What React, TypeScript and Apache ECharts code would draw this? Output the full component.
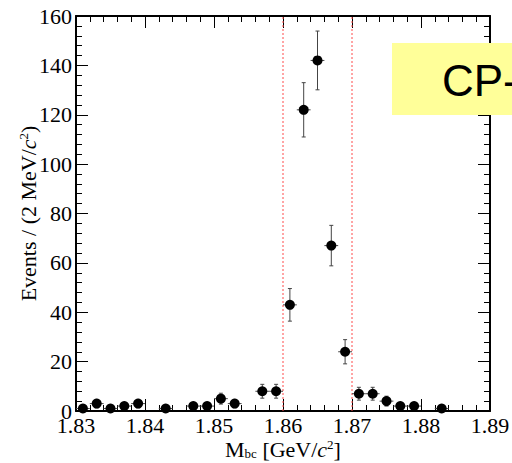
import React, { useEffect, useRef } from "react";
import * as echarts from "echarts";

const binCenters = [1.831, 1.833, 1.835, 1.837, 1.839, 1.843, 1.847, 1.849, 1.851, 1.853, 1.857, 1.859, 1.861, 1.863, 1.865, 1.867, 1.869, 1.871, 1.873, 1.875, 1.877, 1.879, 1.883];
const events = [1, 3, 1, 2, 3, 1, 2, 2, 5, 3, 8, 8, 43, 122, 142, 67, 24, 7, 7, 4, 2, 2, 1];
const errors = [1, 1.7, 1, 1.4, 1.7, 1, 1.4, 1.4, 2.2, 1.7, 2.8, 2.8, 6.6, 11, 11.9, 8.2, 4.9, 2.6, 2.6, 2, 1.4, 1.4, 1];
const halfBin = 0.001;
const signalWindow = [1.86, 1.87];
const xTicks = { min: 1.83, max: 1.89, interval: 0.01 };
const yTicks = { min: 0, max: 160, interval: 20 };
const boxLabel = "CP-";

const SERIF = "'Liberation Serif', 'Times New Roman', serif";
const RED = "#ff4a4a";

export default function App() {
  const ref = useRef<HTMLDivElement>(null);
  useEffect(() => {
    if (!ref.current) return;
    const chart = echarts.init(ref.current, undefined, { renderer: "svg" });
    const points = binCenters.map((x, i) => [x, events[i], errors[i]]);
    const rich = {
      m: { fontSize: 22, fontFamily: SERIF, color: "#000", lineHeight: 22 },
      i: { fontSize: 22, fontFamily: SERIF, fontStyle: "italic", color: "#000", lineHeight: 22 },
      s: { fontSize: 13, fontFamily: SERIF, color: "#000", lineHeight: 12, verticalAlign: "bottom" },
      sup: { fontSize: 13, fontFamily: SERIF, color: "#000", lineHeight: 12, verticalAlign: "top" },
    };
    const tickCommon = {
      axisLine: { show: true, onZero: false, lineStyle: { color: "#000", width: 2 } },
      axisTick: { show: true, inside: true, length: 12, lineStyle: { color: "#000", width: 1 } },
      minorTick: { show: true, splitNumber: 5, length: 6, lineStyle: { color: "#000", width: 1 } },
      splitLine: { show: false },
      minorSplitLine: { show: false },
    };
    const windowSeries = signalWindow.map((v) => ({
      type: "line",
      xAxisIndex: 0,
      yAxisIndex: 0,
      data: [
        [v, yTicks.min],
        [v, yTicks.max],
      ],
      symbol: "none",
      silent: true,
      z: 1,
      lineStyle: { color: RED, type: [2, 2], width: 1 },
    }));
    chart.setOption({
      animation: false,
      backgroundColor: "#fff",
      grid: { left: 76, right: 22, top: 16, bottom: 52, outerBoundsMode: "none", containLabel: false },
      xAxis: [
        {
          type: "value",
          min: xTicks.min,
          max: xTicks.max,
          interval: xTicks.interval,
          ...tickCommon,
          axisLabel: {
            show: true,
            margin: 3,
            fontSize: 22,
            fontFamily: SERIF,
            color: "#000",
            formatter: (v: number) => v.toFixed(2),
          },
          name: "{m|M}{s|bc}{m| [GeV/}{i|c}{sup|2}{m|]}",
          nameLocation: "middle",
          nameGap: 27,
          nameMoveOverlap: false,
          nameTextStyle: { rich },
        },
        {
          type: "value",
          position: "top",
          min: xTicks.min,
          max: xTicks.max,
          interval: xTicks.interval,
          ...tickCommon,
          axisLabel: { show: false },
        },
      ],
      yAxis: [
        {
          type: "value",
          min: yTicks.min,
          max: yTicks.max,
          interval: yTicks.interval,
          ...tickCommon,
          axisLabel: {
            show: true,
            margin: 4,
            fontSize: 22,
            fontFamily: SERIF,
            color: "#000",
          },
          name: "{m|Events / (2 MeV/}{i|c}{sup|2}{m|)}",
          nameLocation: "middle",
          nameGap: 37,
          nameMoveOverlap: false,
          nameRotate: 90,
          nameTextStyle: { rich },
        },
        {
          type: "value",
          position: "right",
          min: yTicks.min,
          max: yTicks.max,
          interval: yTicks.interval,
          ...tickCommon,
          axisLabel: { show: false },
        },
      ],
      series: [
        ...windowSeries,
        {
          type: "custom",
          xAxisIndex: 0,
          yAxisIndex: 0,
          data: points,
          z: 2,
          renderItem: (params: any, api: any) => {
            const x = api.value(0);
            const y = api.value(1);
            const e = api.value(2);
            const top = api.coord([x, y + e]);
            const bot = api.coord([x, y - e]);
            const left = api.coord([x - halfBin, y]);
            const right = api.coord([x + halfBin, y]);
            const style = { stroke: "#444", lineWidth: 1 };
            return {
              type: "group",
              children: [
                { type: "line", shape: { x1: top[0], y1: top[1], x2: bot[0], y2: bot[1] }, style },
                { type: "line", shape: { x1: top[0] - 2, y1: top[1], x2: top[0] + 2, y2: top[1] }, style },
                { type: "line", shape: { x1: bot[0] - 2, y1: bot[1], x2: bot[0] + 2, y2: bot[1] }, style },
                { type: "line", shape: { x1: left[0], y1: left[1], x2: right[0], y2: right[1] }, style },
              ],
            };
          },
        },
        {
          type: "scatter",
          xAxisIndex: 0,
          yAxisIndex: 0,
          data: points.map((p) => [p[0], p[1]]),
          symbol: "circle",
          symbolSize: 10,
          itemStyle: { color: "#000", opacity: 1 },
          z: 3,
        },
      ],
      graphic: [
        {
          type: "rect",
          z: 100,
          shape: { x: 392, y: 43, width: 130, height: 72 },
          style: { fill: "#ffff99" },
        },
        {
          type: "text",
          z: 101,
          x: 442,
          y: 80,
          style: {
            text: boxLabel,
            fontSize: 44,
            fontFamily: "'Liberation Sans', Arial, sans-serif",
            fill: "#000",
            verticalAlign: "middle",
            align: "left",
          },
        },
      ],
    });
    return () => chart.dispose();
  }, []);
  return (
    <div
      ref={ref}
      style={{ position: "fixed", left: 0, top: 0, width: 512, height: 463 }}
    />
  );
}
